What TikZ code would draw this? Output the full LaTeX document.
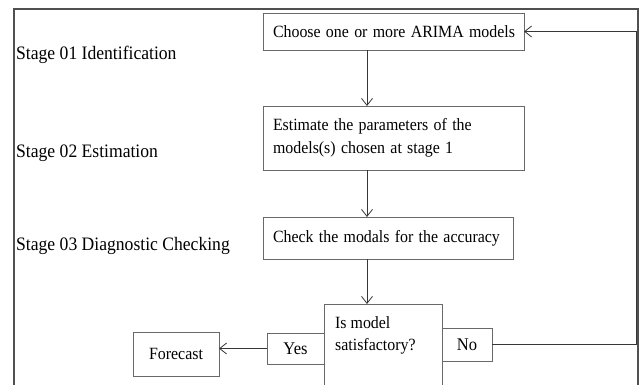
\documentclass[tikz,border=0pt]{standalone}
\usepackage{fontspec}
\setmainfont{Liberation Serif}
\usetikzlibrary{arrows.meta}
\definecolor{boxgray}{RGB}{105,105,105}
\definecolor{framegray}{RGB}{80,80,80}
\definecolor{linegray}{RGB}{55,55,55}
\newcommand{\tallish}[1]{\scalebox{1}[1.08]{#1}}
\begin{document}
\begin{tikzpicture}[x=1pt,y=-1pt,
  box/.style={draw=boxgray, line width=0.9pt, rectangle, inner ysep=0pt, outer sep=0pt,
    anchor=north west, font=\fontsize{15.9}{23}\selectfont},
  lbox/.style={box, align=left, inner xsep=10pt},
  cbox/.style={box, align=center, inner xsep=0pt},
  arr/.style={draw=linegray, line width=0.8pt, -{Straight Barb[length=7pt,width=11pt,line width=0.8pt]}},
  stagelbl/.style={anchor=west, inner sep=0pt, font=\fontsize{17.6}{21}\selectfont}]
\clip (0,0) rectangle (642,385);
\fill[white] (0,0) rectangle (642,385);
\draw[framegray, line width=1.5pt] (14,395) -- (14,9) -- (638,9) -- (638,395);

% stage labels
\node[stagelbl] (s1) at (16,55) {\tallish{Stage 01 Identification}};
\node[stagelbl] (s2) at (16,153) {\tallish{Stage 02 Estimation}};
\node[stagelbl] (s3) at (16,246) {\tallish{Stage 03 Diagnostic Checking}};

% boxes
\node[lbox, text width=241pt, minimum height=37pt] (b1) at (263,13) {\tallish{Choose one or more ARIMA models}};
\node[lbox, text width=241pt, minimum height=64pt] (b2) at (263,106) {\tallish{Estimate the parameters of the}\\\tallish{models(s) chosen at stage 1}};
\node[lbox, text width=230pt, minimum height=42pt] (b3) at (263,217) {\tallish{Check the modals for the accuracy}};
\node[box, minimum width=118pt, minimum height=130pt] (dec) at (324,304) {};
\node[anchor=north west, inner sep=0pt, align=left, font=\fontsize{15.9}{22}\selectfont] (dect) at (335,316) {\tallish{Is model}\\\tallish{satisfactory?}};
\node[cbox, minimum width=57pt, minimum height=31pt, font=\fontsize{16.5}{20}\selectfont] (yes) at (267,333) {\tallish{Yes}};
\node[cbox, minimum width=50pt, minimum height=33pt, font=\fontsize{16.5}{20}\selectfont] (no) at (442,328) {\tallish{No}};
\node[cbox, minimum width=86pt, minimum height=44pt] (fc) at (133,332) {\tallish{Forecast}};

% connectors
\coordinate (ax) at (367,0);
\coordinate (fb) at (636,0);
\draw[arr] (b1.south -| ax) -- (b2.north -| ax);
\draw[arr] (b2.south -| ax) -- (b3.north -| ax);
\draw[arr] (b3.south -| ax) -- (dec.north -| ax);
\draw[arr] (yes.west) -- (fc.east |- yes.west);
\draw[arr] (no.east) -- (no.east -| fb) -- (b1.east -| fb) -- (b1.east);
\end{tikzpicture}
\end{document}
